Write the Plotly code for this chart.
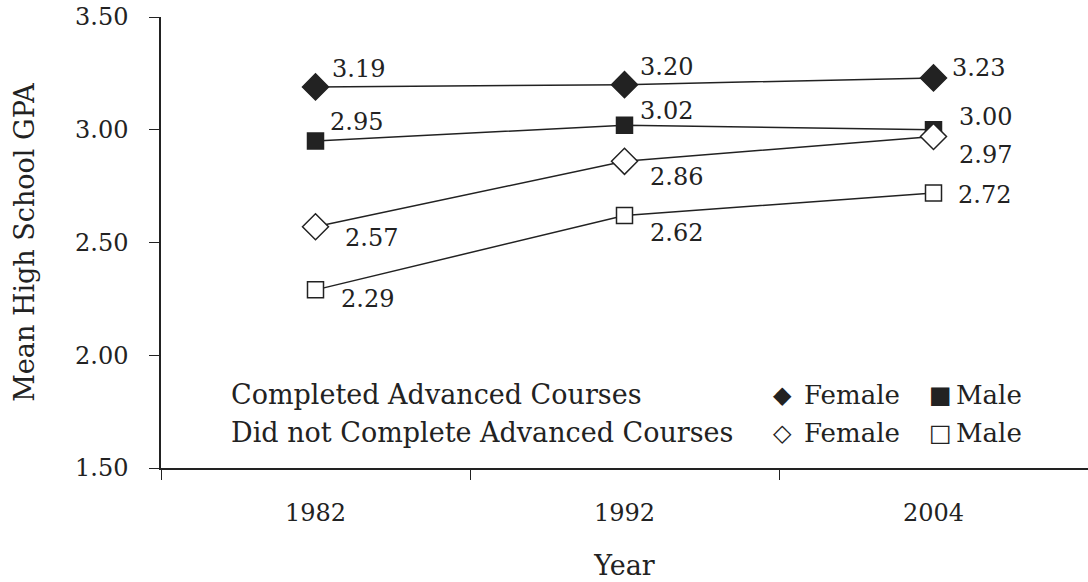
import plotly.graph_objects as go

years = ["1982", "1992", "2004"]
female_completed = [3.19, 3.20, 3.23]
male_completed = [2.95, 3.02, 3.00]
female_not_completed = [2.57, 2.86, 2.97]
male_not_completed = [2.29, 2.62, 2.72]

font_family = "DejaVu Serif, Liberation Serif, serif"
ink = "#222"

# (values, marker symbol, fill, label offsets (xshift, yshift) per point)
series = [
    (female_completed, "diamond", ink, [(14, 18), (13, 18), (16, 10)]),
    (male_completed, "square", ink, [(12, 19), (13, 14), (23, 13)]),
    (female_not_completed, "diamond", "white", [(27, -11), (23, -16), (23, -18)]),
    (male_not_completed, "square", "white", [(23, -9), (23, -18), (22, -2)]),
]

fig = go.Figure()
for values, symbol, fill, offsets in series:
    fig.add_trace(go.Scatter(
        x=years, y=values,
        mode="lines+markers",
        line=dict(color=ink, width=1.5),
        marker=dict(symbol=symbol, size=16 if symbol == "square" else 20,
                    color=fill, line=dict(color=ink, width=1.5)),
        showlegend=False,
        cliponaxis=False,
    ))
    # value labels, placed by category index on the axis
    for i, (v, (dx, dy)) in enumerate(zip(values, offsets)):
        fig.add_annotation(x=i, y=v, text="%.2f" % v, showarrow=False,
                           xanchor="left", yanchor="middle", xshift=dx, yshift=dy,
                           font=dict(family=font_family, size=24, color=ink))

# legend drawn as text, laid out like the original
legend_rows = [
    ("Completed Advanced Courses", "\u25c6", "\u25a0", 0.162),
    ("Did not Complete Advanced Courses", "\u25c7", "\u25a1", 0.078),
]
for label, fem_sym, male_sym, yy in legend_rows:
    fig.add_annotation(x=0.073, y=yy, xref="paper", yref="paper", text=label,
                       showarrow=False, xanchor="left", yanchor="middle",
                       font=dict(family=font_family, size=27, color=ink))
    for sym, xx in [(fem_sym, 0.670), (male_sym, 0.8404)]:
        fig.add_annotation(x=xx, y=yy, xref="paper", yref="paper", text=sym,
                           showarrow=False, xanchor="center", yanchor="middle",
                           font=dict(family=font_family, size=24, color=ink))
    for word, xx in [("Female", 0.692), ("Male", 0.855)]:
        fig.add_annotation(x=xx, y=yy, xref="paper", yref="paper", text=word,
                           showarrow=False, xanchor="left", yanchor="middle",
                           font=dict(family=font_family, size=26, color=ink))

fig.update_layout(
    width=1088, height=582,
    margin=dict(l=161, r=0, t=17, b=114),
    plot_bgcolor="white", paper_bgcolor="white",
    font=dict(family=font_family, size=24, color=ink),
)
fig.update_xaxes(
    type="category", range=[-0.5, 2.5], automargin=False,
    showline=True, linecolor=ink, linewidth=1.5,
    ticks="outside", tickson="boundaries", ticklen=10, tickcolor=ink,
    tickfont=dict(family=font_family, size=24, color=ink),
    ticklabelstandoff=22,
    showgrid=False, zeroline=False,
    title=dict(text="Year", standoff=31, font=dict(size=27)),
)
fig.update_yaxes(
    range=[1.5, 3.5], dtick=0.5, tickformat=".2f", automargin=False,
    showline=True, linecolor=ink, linewidth=1.5,
    ticks="outside", ticklen=10, tickcolor=ink,
    tickfont=dict(family=font_family, size=24, color=ink),
    ticklabelstandoff=16, ticklabeloverflow="allow",
    showgrid=False, zeroline=False,
    title=dict(text="Mean High School GPA", standoff=33, font=dict(size=27)),
)

# drop the browser's default page margin so the figure fills the window
fig.write_html("out.html", config={"displayModeBar": False},
               post_script="document.body.style.margin = '0';")
